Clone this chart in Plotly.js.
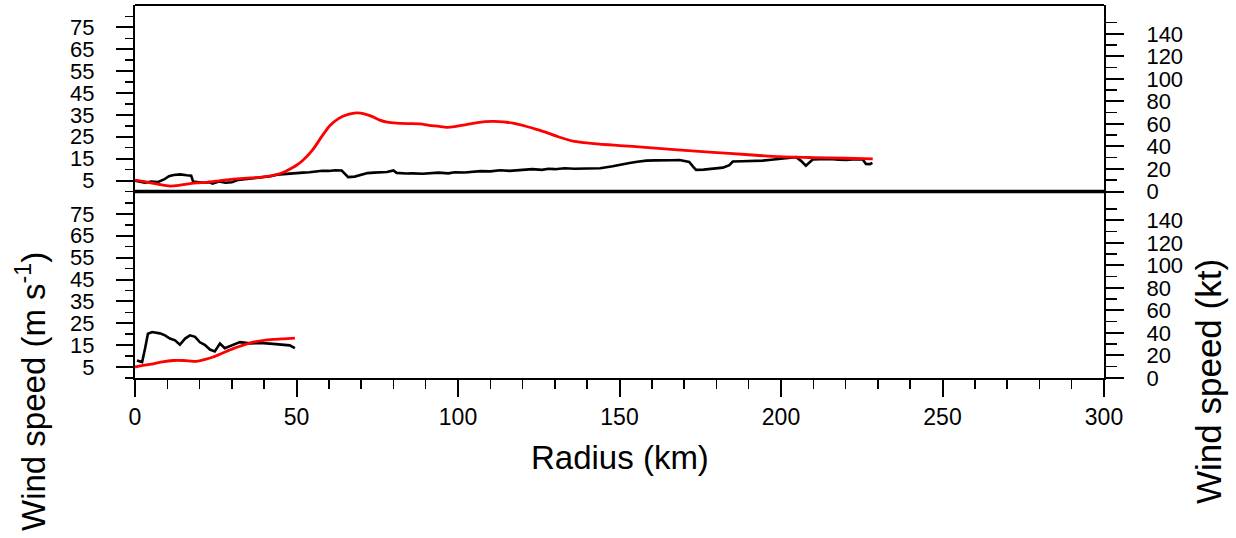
<!DOCTYPE html>
<html>
<head>
<meta charset="utf-8">
<script src="https://cdn.plot.ly/plotly-3.0.1.min.js"></script>
<style>
  html, body { margin: 0; padding: 0; background: #fff; }
  #chart { width: 1236px; height: 538px; }
</style>
</head>
<body>
<div id="chart"></div>
<script>
// ---- data (radius in km, wind speed in m/s) ----
const topRedKm = [0,3,6.7,10.8,13.5,16,19,22.2,26,30.4,34.5,38.7,41.5,43.8,46,48,50,52,55,58,60.3,63,66,68.6,71,73.5,75.8,78,81,85,88,92,96.4,99,102.6,106,110.8,114,117,121,124,127.3,131,135.6,139,143.8,150,158,168,178.9,189,199.5,210,220,228.4];
const topRedV  = [5.2,4.5,3.5,2.5,2.8,3.4,3.9,4.2,4.9,5.7,6.1,6.5,7.0,7.7,8.8,10.3,12.0,14.3,19.0,25.5,30.0,33.3,35.2,35.9,35.5,34.2,32.6,31.7,31.2,31.0,30.9,30.1,29.3,29.6,30.6,31.5,32.0,31.8,31.2,29.8,28.5,27.0,25.0,23.0,22.3,21.6,21.0,20.2,19.0,17.9,16.9,15.9,15.5,15.2,14.9];

const topBlackKm = [0,1.5,3,5,7,9,10.5,12,14,16,17.4,18,21,23,24,26,28,30,32,34,36,38,40,42,44,46,48,50,52,54,56,58,60,62,64,65,66,68,70,72,74,76,78,80,81,84,86,89,92,94,97,99,102,105,107,110,113,116,118,120,123,126,128,130,133,136,138,141,144,147.9,150,153.1,155.5,158.3,161,163.4,166,168.6,171.6,172.7,173.7,176,178.9,182,184,185.1,188,191,194.3,197,199,201.6,203,204.7,206.2,207.7,209,209.8,212,215,218,220.1,223,225.3,226.3,227.5,228.3];
const topBlackV  = [5.0,4.6,4.0,4.5,4.3,5.5,7.0,7.5,7.8,7.4,7.2,4.5,4.0,4.3,3.6,4.6,4.0,4.2,5.3,5.6,5.9,6.4,6.8,7.0,7.7,8.0,8.2,8.5,8.6,8.8,9.2,9.5,9.4,9.7,9.6,8.0,6.6,6.8,7.6,8.4,8.6,8.6,8.9,9.6,8.5,8.2,8.3,8.1,8.4,8.6,8.3,8.8,8.7,9.0,9.3,9.2,9.7,9.4,9.6,9.9,10.2,9.9,10.4,10.2,10.6,10.4,10.4,10.7,10.6,11.5,12.2,13.0,13.6,14.1,14.2,14.4,14.3,14.4,13.5,11.5,9.9,10.0,10.3,10.9,12.0,13.7,13.8,13.9,14.1,14.5,14.9,15.2,15.4,15.7,14.0,11.8,13.5,14.6,14.8,14.9,14.5,14.4,14.7,14.6,12.6,12.5,13.1];

const botRedKm = [0,2.5,5.7,8.5,11.9,15,19.1,21.5,24.2,27,30.4,33.5,36.6,39.5,42.8,46,49.5];
const botRedV  = [5.0,5.8,6.5,7.4,8.0,8.0,7.6,8.4,9.6,11.3,13.4,15.0,16.4,17.1,17.6,17.9,18.2];

const botBlackKm = [0.6,2.2,3.1,4.0,5.3,7.7,9.3,10.8,12.4,13.9,15.5,17.0,18.6,20.1,21.6,23.2,24.7,26.3,27.8,29.4,32.5,35.6,38.7,41.8,44.8,47.9,49.5];
const botBlackV  = [8.0,7.3,13.4,20.2,21.0,20.4,19.5,18.0,17.2,15.2,18.0,19.5,18.8,16.3,15.2,13.0,12.1,15.7,13.6,14.6,16.4,15.8,16.0,15.7,15.3,14.9,13.6];

// tick labels
const msTickVals = [5,15,25,35,45,55,65,75];
const msMinorVals = [0,10,20,30,40,50,60,70,80];
const ktTickVals = [0,20,40,60,80,100,120,140];
const ktMinorVals = [10,30,50,70,90,110,130,150];
const kmTickVals = [0,50,100,150,200,250,300];

const MS_TO_KT = 1.94384;
const yMax = 85.2;
const FONT = "Liberation Sans, Arial, Helvetica, sans-serif";

const redLine = {color: '#ff0000', width: 2.8, shape: 'spline', smoothing: 0.6};
const blackLine = {color: '#000000', width: 2.6};

const traces = [
  {x: topBlackKm, y: topBlackV, xaxis: 'x', yaxis: 'y', mode: 'lines', line: blackLine, hoverinfo: 'skip'},
  {x: topRedKm, y: topRedV, xaxis: 'x', yaxis: 'y', mode: 'lines', line: redLine, hoverinfo: 'skip'},
  {x: botBlackKm, y: botBlackV, xaxis: 'x', yaxis: 'y2', mode: 'lines', line: blackLine, hoverinfo: 'skip'},
  {x: botRedKm, y: botRedV, xaxis: 'x', yaxis: 'y2', mode: 'lines', line: redLine, hoverinfo: 'skip'}
];

function leftAxis(domain) {
  return {
    domain: domain, range: [0, yMax], anchor: 'x', side: 'left',
    tickmode: 'array', tickvals: msTickVals, ticktext: msTickVals.map(String),
    ticks: 'outside', ticklen: 17, tickwidth: 2, tickcolor: '#000',
    minor: {tickmode: 'array', tickvals: msMinorVals, ticks: 'outside', ticklen: 8, tickwidth: 1.5, tickcolor: '#000'},
    showline: true, linewidth: 2, linecolor: '#000', mirror: false,
    showgrid: false, zeroline: false,
    tickfont: {family: FONT, size: 22, color: '#000'},
    ticklabelstandoff: 17
  };
}
function rightAxis(overlay) {
  return {
    overlaying: overlay, range: [0, yMax * MS_TO_KT], anchor: 'x', side: 'right',
    tickmode: 'array', tickvals: ktTickVals, ticktext: ktTickVals.map(String),
    ticks: 'outside', ticklen: 18, tickwidth: 2, tickcolor: '#000',
    minor: {tickmode: 'array', tickvals: ktMinorVals, ticks: 'outside', ticklen: 11, tickwidth: 1.5, tickcolor: '#000'},
    showline: true, linewidth: 2, linecolor: '#000',
    showgrid: false, zeroline: false,
    tickfont: {family: FONT, size: 22, color: '#000'},
    ticklabelstandoff: 18
  };
}

const layout = {
  width: 1236, height: 538,
  margin: {l: 135, r: 132, t: 5, b: 160, pad: 0},
  paper_bgcolor: '#fff', plot_bgcolor: '#fff',
  showlegend: false,
  font: {family: FONT, color: '#000'},
  xaxis: {
    range: [0, 300], anchor: 'y2',
    tickmode: 'array', tickvals: kmTickVals, ticktext: kmTickVals.map(String),
    ticks: 'outside', ticklen: 17, tickwidth: 2, tickcolor: '#000',
    minor: {dtick: 10, tick0: 0, ticks: 'outside', ticklen: 9, tickwidth: 1.5, tickcolor: '#000'},
    showline: true, linewidth: 2, linecolor: '#000',
    showgrid: false, zeroline: false,
    tickfont: {family: FONT, size: 23, color: '#000'},
    ticklabelstandoff: 0
  },
  yaxis: leftAxis([0.5, 1]),
  yaxis2: leftAxis([0, 0.5]),
  yaxis3: rightAxis('y'),
  yaxis4: rightAxis('y2'),
  shapes: [
    {type: 'line', xref: 'paper', yref: 'paper', x0: 0, x1: 1, y0: 1, y1: 1, line: {color: '#000', width: 2}},
    {type: 'line', xref: 'paper', yref: 'paper', x0: 0, x1: 1, y0: 0.5, y1: 0.5, line: {color: '#000', width: 3.5}}
  ],
  annotations: [
    {text: 'Radius (km)', xref: 'paper', yref: 'paper', x: 0.5, y: -0.212, showarrow: false,
     xanchor: 'center', yanchor: 'middle', font: {family: FONT, size: 33, color: '#000'}},
    {text: 'Wind speed (m s<sup>-1</sup>)', xref: 'paper', yref: 'paper', x: (31 - 135) / 969, y: -0.0375,
     showarrow: false, textangle: -90, xanchor: 'center', yanchor: 'middle', font: {family: FONT, size: 33, color: '#000'}},
    {text: 'Wind speed (kt)', xref: 'paper', yref: 'paper', x: (1209 - 135) / 969, y: -0.0107,
     showarrow: false, textangle: -90, xanchor: 'center', yanchor: 'middle', font: {family: FONT, size: 35, color: '#000'}}
  ]
};

// invisible anchors so the knot overlay axes render
traces.push({x: [0], y: [0], xaxis: 'x', yaxis: 'y3', mode: 'markers', marker: {opacity: 0}, hoverinfo: 'skip'});
traces.push({x: [0], y: [0], xaxis: 'x', yaxis: 'y4', mode: 'markers', marker: {opacity: 0}, hoverinfo: 'skip'});

Plotly.newPlot('chart', traces, layout, {displayModeBar: false, staticPlot: true});
</script>
</body>
</html>
